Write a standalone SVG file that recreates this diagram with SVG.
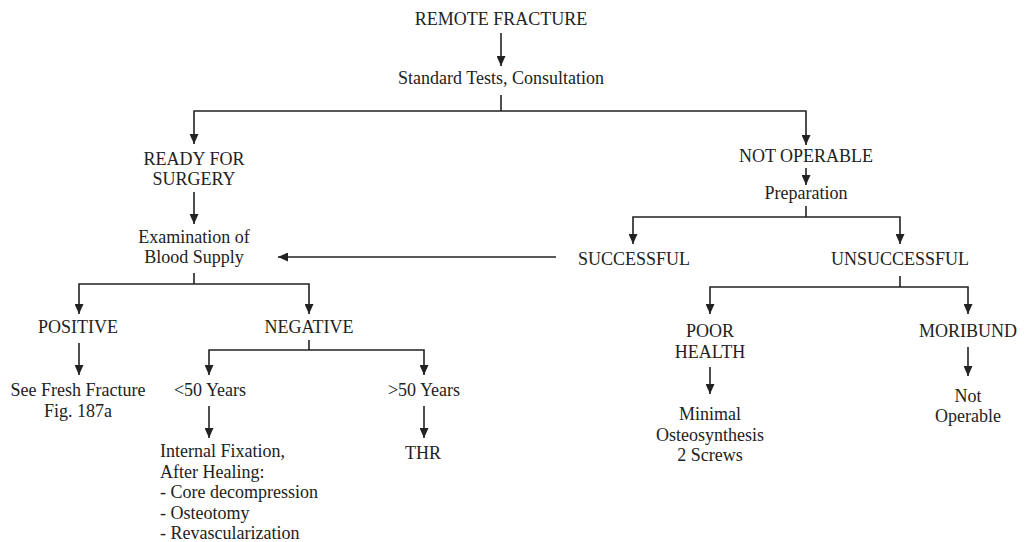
<svg xmlns="http://www.w3.org/2000/svg" width="1027" height="542" viewBox="0 0 1027 542">
  <style>
    text { font-family: "Liberation Serif", "Times New Roman", serif; font-size: 18px; fill: #222; }
    .c { text-anchor: middle; }
    .l { text-anchor: start; }
    .edge { fill: none; stroke: #222; stroke-width: 1.6; }
    .arr { marker-end: url(#head); }
  </style>
  <defs>
    <marker id="head" markerUnits="userSpaceOnUse" markerWidth="10" markerHeight="9" refX="10" refY="4.5" orient="auto">
      <path d="M0,0 L10,4.5 L0,9 z" fill="#222"/>
    </marker>
  </defs>
  <rect width="1027" height="542" fill="#fff"/>

  <g id="connectors">
    <!-- trunk -->
    <line class="edge arr" x1="501" y1="33" x2="501" y2="66"/>
    <polyline class="edge" points="501,95 501,111"/>
    <polyline class="edge arr" points="501,111 194,111 194,144"/>
    <polyline class="edge arr" points="501,111 806,111 806,145"/>
    <!-- left branch -->
    <line class="edge arr" x1="194" y1="192" x2="194" y2="224"/>
    <polyline class="edge" points="194,273 194,284"/>
    <polyline class="edge arr" points="194,284 79,284 79,314"/>
    <polyline class="edge arr" points="194,284 309,284 309,314"/>
    <line class="edge arr" x1="79" y1="343" x2="79" y2="375"/>
    <polyline class="edge" points="309,340 309,350"/>
    <polyline class="edge arr" points="309,350 209,350 209,375"/>
    <polyline class="edge arr" points="309,350 424,350 424,375"/>
    <line class="edge arr" x1="209" y1="406" x2="209" y2="438"/>
    <line class="edge arr" x1="424" y1="406" x2="424" y2="438"/>
    <!-- right branch -->
    <line class="edge arr" x1="806" y1="168" x2="806" y2="185"/>
    <polyline class="edge" points="806,206 806,217"/>
    <polyline class="edge arr" points="806,217 633,217 633,244"/>
    <polyline class="edge arr" points="806,217 900,217 900,244"/>
    <line class="edge arr" x1="556" y1="257" x2="278" y2="257"/>
    <polyline class="edge" points="900,276 900,287"/>
    <polyline class="edge arr" points="900,287 710,287 710,314"/>
    <polyline class="edge arr" points="900,287 968,287 968,314"/>
    <line class="edge arr" x1="710" y1="367" x2="710" y2="394"/>
    <line class="edge arr" x1="968" y1="347" x2="968" y2="376"/>
  </g>

  <g id="remote-fracture"><text class="c" x="501" y="25">REMOTE FRACTURE</text></g>
  <g id="standard-tests"><text class="c" x="501" y="84">Standard Tests, Consultation</text></g>
  <g id="ready-for-surgery">
    <text class="c" x="194" y="165">READY FOR</text>
    <text class="c" x="194" y="185">SURGERY</text>
  </g>
  <g id="not-operable"><text class="c" x="806" y="162">NOT OPERABLE</text></g>
  <g id="preparation"><text class="c" x="806" y="199">Preparation</text></g>
  <g id="successful"><text class="c" x="634" y="265">SUCCESSFUL</text></g>
  <g id="unsuccessful"><text class="c" x="900" y="265">UNSUCCESSFUL</text></g>
  <g id="blood-supply">
    <text class="c" x="194" y="243">Examination of</text>
    <text class="c" x="194" y="263">Blood Supply</text>
  </g>
  <g id="positive"><text class="c" x="78" y="333">POSITIVE</text></g>
  <g id="negative"><text class="c" x="309" y="333">NEGATIVE</text></g>
  <g id="fresh-fracture">
    <text class="c" x="78" y="396">See Fresh Fracture</text>
    <text class="c" x="78" y="417">Fig. 187a</text>
  </g>
  <g id="under-50"><text class="c" x="210" y="396">&lt;50 Years</text></g>
  <g id="over-50"><text class="c" x="424" y="396">&gt;50 Years</text></g>
  <g id="internal-fixation">
    <text class="l" x="160" y="457">Internal Fixation,</text>
    <text class="l" x="160" y="478">After Healing:</text>
    <text class="l" x="160" y="498">- Core decompression</text>
    <text class="l" x="160" y="519">- Osteotomy</text>
    <text class="l" x="160" y="539">- Revascularization</text>
  </g>
  <g id="thr"><text class="c" x="423" y="459">THR</text></g>
  <g id="poor-health">
    <text class="c" x="710" y="337">POOR</text>
    <text class="c" x="710" y="358">HEALTH</text>
  </g>
  <g id="moribund"><text class="c" x="968" y="337">MORIBUND</text></g>
  <g id="minimal-osteosynthesis">
    <text class="c" x="710" y="420">Minimal</text>
    <text class="c" x="710" y="441">Osteosynthesis</text>
    <text class="c" x="710" y="461">2 Screws</text>
  </g>
  <g id="not-operable-end">
    <text class="c" x="968" y="402">Not</text>
    <text class="c" x="968" y="422">Operable</text>
  </g>
</svg>
